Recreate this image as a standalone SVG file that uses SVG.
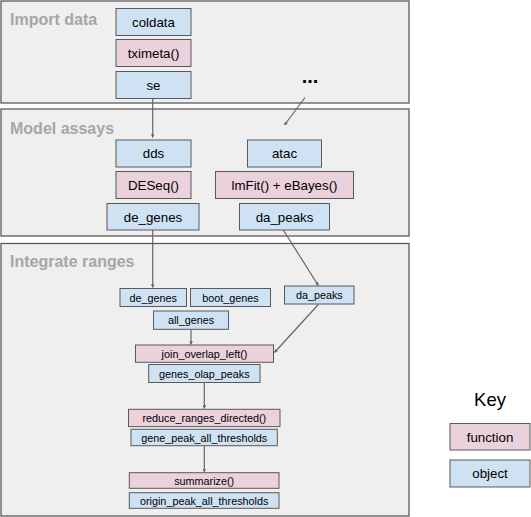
<svg xmlns="http://www.w3.org/2000/svg" width="531" height="517" viewBox="0 0 531 517">
<defs>
<marker id="ah" viewBox="0 0 10 10" refX="9" refY="5" markerWidth="3" markerHeight="3" orient="auto-start-reverse"><path d="M0,0 L10,5 L0,10 z" fill="#666666"/></marker>
<style>
.panel{fill:#efefef;stroke:#595959;stroke-width:1.3}
.ptitle{font-family:"Liberation Sans",Arial,sans-serif;font-weight:bold;font-size:16px;fill:#a6a6a6}
.fn{fill:#ead1dc;stroke:#595959;stroke-width:1}
.ob{fill:#cfe2f3;stroke:#595959;stroke-width:1}
.t{font-family:"Liberation Sans",Arial,sans-serif;font-size:13.3px;fill:#000;text-anchor:middle;dominant-baseline:central}
.s{font-family:"Liberation Sans",Arial,sans-serif;font-size:10.8px;fill:#000;text-anchor:middle;dominant-baseline:central}
.c{fill:none;stroke:#666666;stroke-width:1.2;marker-end:url(#ah)}
</style>
</defs>
<rect width="531" height="517" fill="#ffffff"/>
<g id="panel-import"><rect class="panel" x="1" y="1" width="408" height="102"/><text class="ptitle" x="10" y="25">Import data</text></g>
<g id="panel-model"><rect class="panel" x="1" y="109" width="408" height="127"/><text class="ptitle" x="10" y="134">Model assays</text></g>
<g id="panel-integrate"><rect class="panel" x="1" y="243.5" width="408" height="272.5"/><text class="ptitle" x="10" y="267">Integrate ranges</text></g>

<g id="coldata"><rect class="ob" x="116" y="8.5" width="75" height="27"/><text class="t" x="153.5" y="22">coldata</text></g>
<g id="tximeta"><rect class="fn" x="116" y="39.5" width="75" height="27"/><text class="t" x="153.5" y="53">tximeta()</text></g>
<g id="se"><rect class="ob" x="116" y="71.5" width="75" height="27"/><text class="t" x="153.5" y="85">se</text></g>
<g id="ellipsis"><text x="310" y="83" font-family="'Liberation Sans',Arial,sans-serif" font-weight="bold" font-size="20" text-anchor="middle" fill="#000">...</text></g>

<g id="dds"><rect class="ob" x="116" y="140" width="75" height="27"/><text class="t" x="153.5" y="153.5">dds</text></g>
<g id="deseq"><rect class="fn" x="116" y="171.5" width="75" height="27"/><text class="t" x="153.5" y="185">DESeq()</text></g>
<g id="de_genes"><rect class="ob" x="107" y="203.5" width="92" height="26.5"/><text class="t" x="153" y="217">de_genes</text></g>
<g id="atac"><rect class="ob" x="247.5" y="140" width="74" height="27"/><text class="t" x="284.5" y="153.5">atac</text></g>
<g id="lmfit"><rect class="fn" x="215.5" y="171.5" width="138" height="27"/><text class="t" x="284.5" y="185">lmFit() + eBayes()</text></g>
<g id="da_peaks"><rect class="ob" x="239.5" y="203.5" width="90" height="26.5"/><text class="t" x="284.5" y="217">da_peaks</text></g>

<g id="de_genes2"><rect class="ob" x="120" y="288.5" width="66.5" height="18"/><text class="s" x="153.3" y="297.5">de_genes</text></g>
<g id="boot_genes"><rect class="ob" x="190.5" y="288.5" width="80" height="18"/><text class="s" x="230.5" y="297.5">boot_genes</text></g>
<g id="da_peaks2"><rect class="ob" x="284.5" y="286" width="69.5" height="18"/><text class="s" x="319.3" y="295">da_peaks</text></g>
<g id="all_genes"><rect class="ob" x="153.5" y="311" width="75" height="18.3"/><text class="s" x="191" y="320.2">all_genes</text></g>
<g id="join"><rect class="fn" x="135.5" y="345" width="138" height="17.3"/><text class="s" x="204.5" y="353.7">join_overlap_left()</text></g>
<g id="genes_olap"><rect class="ob" x="148.7" y="364.5" width="111.3" height="18"/><text class="s" x="204.3" y="373.5">genes_olap_peaks</text></g>
<g id="reduce"><rect class="fn" x="128.5" y="409.3" width="151.5" height="17.3"/><text class="s" x="204.3" y="418">reduce_ranges_directed()</text></g>
<g id="gene_peak"><rect class="ob" x="131" y="429.3" width="146.3" height="16.4"/><text class="s" x="204.2" y="437.5">gene_peak_all_thresholds</text></g>
<g id="summarize"><rect class="fn" x="129.3" y="472.7" width="149.7" height="15.6"/><text class="s" x="204.2" y="480.5">summarize()</text></g>
<g id="origin_peak"><rect class="ob" x="129.3" y="492.7" width="149.7" height="15.6"/><text class="s" x="204.2" y="500.5">origin_peak_all_thresholds</text></g>

<g id="key">
<text x="490" y="406" font-family="'Liberation Sans',Arial,sans-serif" font-size="18.5" text-anchor="middle" fill="#000">Key</text>
<rect class="fn" x="450" y="423.5" width="80" height="26.5"/><text class="t" x="490" y="437">function</text>
<rect class="ob" x="450" y="460" width="80" height="27"/><text class="t" x="490" y="473.5">object</text>
</g>

<g id="connectors">
<line class="c" x1="152.7" y1="99" x2="152.7" y2="137.5"/>
<line class="c" x1="305" y1="97.5" x2="284.5" y2="125"/>
<line class="c" x1="152.7" y1="230" x2="152.7" y2="287.5"/>
<line class="c" x1="283.3" y1="230" x2="318.3" y2="285.5"/>
<line class="c" x1="191" y1="329.3" x2="191" y2="344.5"/>
<line class="c" x1="318.3" y1="304.5" x2="274.5" y2="352.5"/>
<line class="c" x1="204.3" y1="382.5" x2="204.3" y2="408.5"/>
<line class="c" x1="204.3" y1="445.7" x2="204.3" y2="472"/>
</g>
</svg>
